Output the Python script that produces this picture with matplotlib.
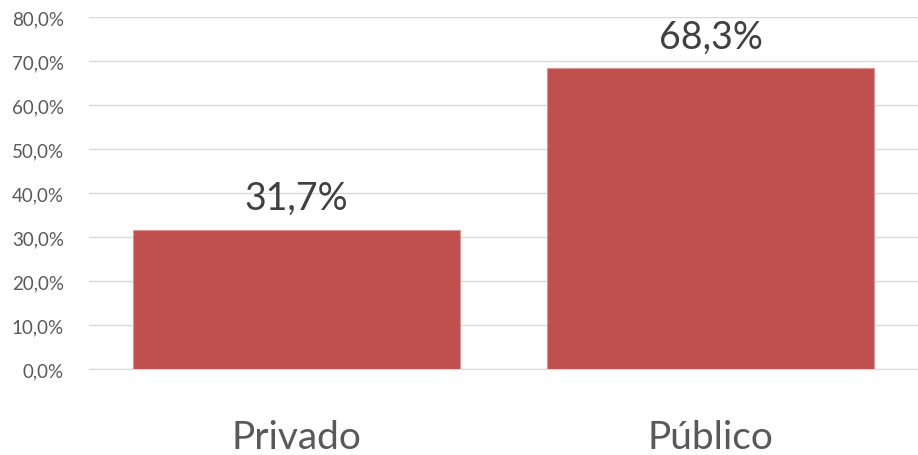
import matplotlib.pyplot as plt
from matplotlib.ticker import FuncFormatter

# Chart data
categories = ["Privado", "Público"]
shares = [31.7, 68.3]
y_ticks = [0, 10, 20, 30, 40, 50, 60, 70, 80]

bar_color = "#C0504D"
text_color = "#595959"
grid_color = "#D9D9D9"

plt.rcParams["font.family"] = ["Lato", "DejaVu Sans"]


def pct_label(value: float) -> str:
    """Format a number like 31,7%"""
    return f"{value:.1f}".replace(".", ",") + "%"


fig = plt.figure(figsize=(9.18, 4.56), dpi=100)
ax = fig.add_axes([89 / 918, 86 / 456, 829 / 918, 352 / 456])

x_pos = range(len(categories))
bars = ax.bar(x_pos, shares, width=0.79, color=bar_color,
              edgecolor="#D99694", linewidth=0.8, zorder=3)

# Value labels above each bar
for bar, value in zip(bars, shares):
    ax.annotate(pct_label(value),
                xy=(bar.get_x() + bar.get_width() / 2, bar.get_height()),
                xytext=(0, 10), textcoords="offset points",
                ha="center", va="bottom", fontsize=27, color="#404040")

ax.set_xlim(-0.5, 1.5)
ax.set_ylim(0, 80)
ax.set_yticks(y_ticks)
ax.yaxis.set_major_formatter(FuncFormatter(lambda v, _: pct_label(v)))
ax.set_xticks(list(x_pos))
ax.set_xticklabels(categories, fontsize=28, color=text_color)

ax.grid(axis="y", color=grid_color, linewidth=1, zorder=0)
ax.tick_params(axis="y", length=0, pad=18, labelsize=13.5, labelcolor=text_color)
ax.tick_params(axis="x", length=0, pad=36)

for side in ["top", "right", "left"]:
    ax.spines[side].set_visible(False)
ax.spines["bottom"].set_color(grid_color)

fig.savefig("out.png", dpi=100)
